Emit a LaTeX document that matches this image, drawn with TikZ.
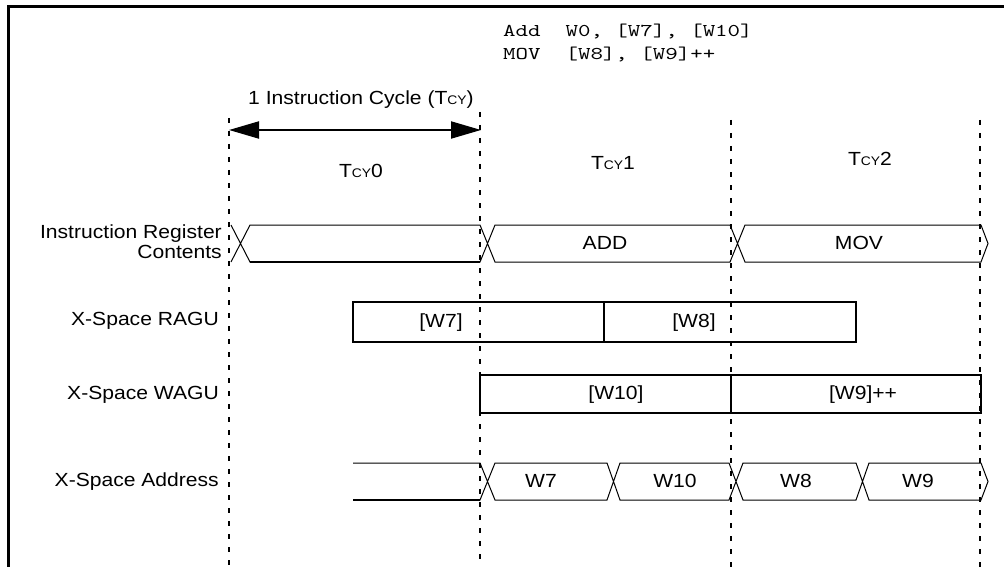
\documentclass[tikz,border=0pt]{standalone}
\usepackage{fontspec}
\setmainfont{Liberation Sans}[FakeStretch=1.11]
\newfontfamily\codefont{lmmono10-regular.otf}[FakeStretch=1.32]
\usetikzlibrary{arrows.meta}
\newcommand\tcyy{T{\fontsize{12.5}{13}\selectfont CY}}
\begin{document}
\begin{tikzpicture}[x=1pt,y=-1pt,
  txt/.style={font=\fontsize{19}{22}\selectfont, inner sep=0pt, anchor=base},
  lbl/.style={txt, anchor=base east},
  code/.style={font=\codefont\fontsize{18}{20}\selectfont, inner sep=0pt, anchor=base west},
  gridline/.style={line width=1.8pt, dash pattern=on 5pt off 8pt},
  boxline/.style={line width=1.8pt},
  sig/.style={line width=1pt},
  sigthick/.style={line width=1.8pt},
  frameline/.style={line width=2.4pt},
  dimarrow/.style={line width=2pt, {Triangle[length=30pt,width=17pt]}-{Triangle[length=30pt,width=17pt]}}]
\useasboundingbox (0,0) rectangle (1004,567);
% frame
\draw[frameline] (8.5,567) -- (8.5,6.5) -- (1004,6.5);
% code
\node[code] (code1) at (503,37) {Add~~W0, [W7], [W10]};
\node[code] (code2) at (503,60) {MOV~~[W8], [W9]++};
% grid lines
\coordinate (g0t) at (229,118); \coordinate (g0b) at (229,567);
\coordinate (g1t) at (480,112); \coordinate (g1b) at (480,567);
\coordinate (g2t) at (731,120); \coordinate (g2b) at (731,567);
\coordinate (g3t) at (980,120); \coordinate (g3b) at (980,567);
\draw[gridline] (g0t) -- (g0b);
\draw[gridline] (g1t) -- (g1b);
\draw[gridline] (g2t) -- (g2b);
\draw[gridline] (g3t) -- (g3b);
% cycle arrow
\node[txt] (cyc) at (361,105) {1 Instruction Cycle (\tcyy)};
\coordinate (a0) at (229,130);
\coordinate (a1) at (481,130);
\draw[dimarrow] (a0) -- (a1);
\node[txt] (t0) at (361,177) {\tcyy0};
\node[txt] (t1) at (613,169) {\tcyy1};
\node[txt] (t2) at (870,165) {\tcyy2};
% labels
\node[lbl] (l1a) at (222,238) {Instruction Register};
\node[lbl] (l1b) at (222,258) {Contents};
\node[lbl] (l2) at (219,325) {X-Space RAGU};
\node[lbl] (l3) at (219,399) {X-Space WAGU};
\node[lbl] (l4) at (219,486) {X-Space Address};
% instruction register row
\draw[sig] (231,225) -- (250,262) -- (480,262) -- (495,225) -- (730,225) -- (745,262)
  -- (981,262) -- (988,243.5) -- (981,225) -- (745,225) -- (730,262) -- (495,262)
  -- (480,225) -- (250,225) -- (231,262);
\draw[sigthick] (250,262) -- (480,262);
\node[txt] (add) at (605,249) {ADD};
\node[txt] (mov) at (859,249) {MOV};
% RAGU
\draw[boxline] (353,302) rectangle (856,342);
\draw[boxline] (604,302) -- (604,342);
\node[txt] (w7) at (441,327) {[W7]};
\node[txt] (w8) at (694,327) {[W8]};
% WAGU
\draw[boxline] (480,375) rectangle (981,413);
\draw[boxline] (731,375) -- (731,413);
\node[txt] (w10) at (616,399) {[W10]};
\node[txt] (w9) at (863,399) {[W9]++};
% address row
\draw[sig] (353,463) -- (480,463) -- (495,500) -- (607,500) -- (620,463) -- (729,463)
  -- (743,500) -- (856,500) -- (869,463) -- (981,463) -- (988,481.5) -- (981,500)
  -- (869,500) -- (856,463) -- (743,463) -- (729,500) -- (620,500) -- (607,463)
  -- (495,463) -- (480,500) -- (353,500);
\draw[sigthick] (353,500) -- (480,500);
\node[txt] (aw7) at (541,487) {W7};
\node[txt] (aw10) at (675,487) {W10};
\node[txt] (aw8) at (796,487) {W8};
\node[txt] (aw9) at (918,487) {W9};
\end{tikzpicture}
\end{document}
